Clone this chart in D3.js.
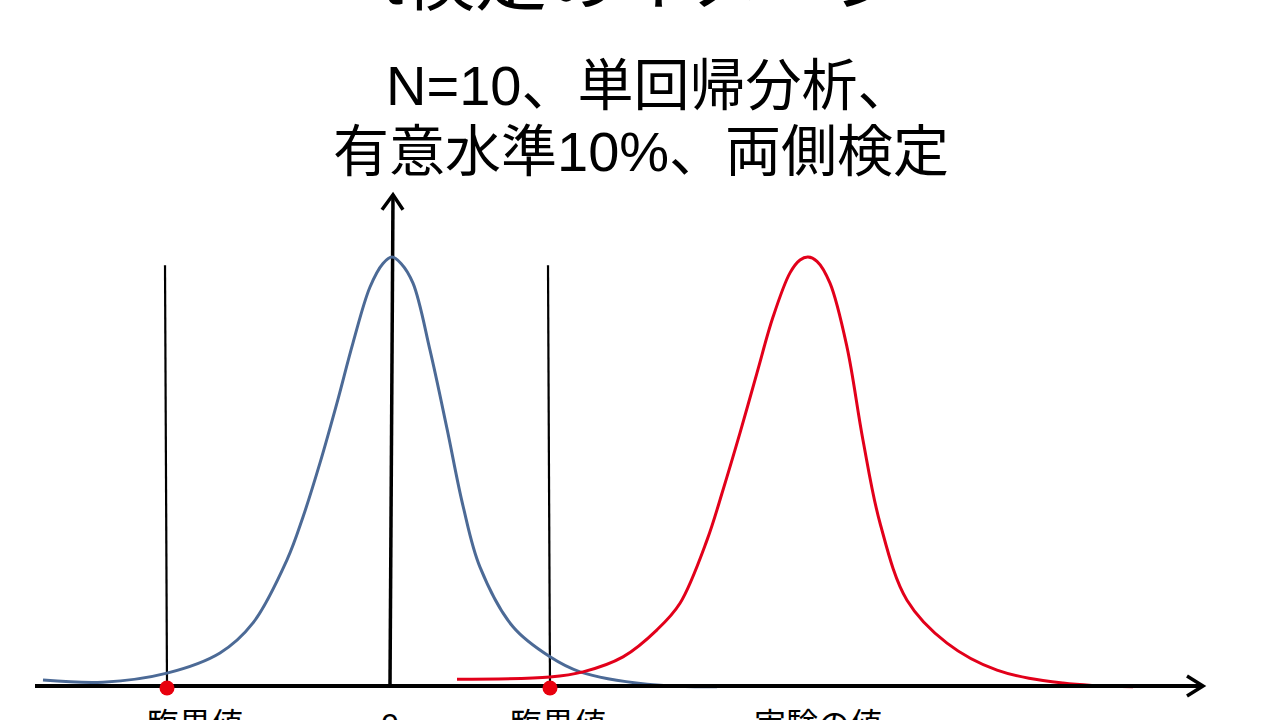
<!DOCTYPE html>
<html><head><meta charset="utf-8">
<script src="https://cdn.jsdelivr.net/npm/d3@7"></script>
<style>body{margin:0;background:#fff} svg{display:block}</style>
</head><body>
<svg id="c" width="1280" height="720"></svg>
<script>
// ---- data ----
const titleText = "t検定のイメージ";
const subtitleLines = ["N=10、単回帰分析、", "有意水準10%、両側検定"];
// null distribution (t distribution centred at 0)
const nullX = [-3.49,-2.89,-2.25,-1.72,-1.39,-1.05,-0.89,-0.72,-0.55,-0.39,-0.22,-0.09,0,0.09,0.21,0.38,0.55,0.71,0.88,1.21,1.58,1.88,2.55,3.25];
const nullY = [0.014,0.009,0.030,0.077,0.147,0.294,0.394,0.520,0.660,0.800,0.930,0.985,1.0,0.985,0.939,0.783,0.600,0.420,0.277,0.138,0.068,0.033,0.004,-0.002];
// experimental distribution
const expX = [0.65,1.58,1.91,2.31,2.65,2.88,3.15,3.31,3.48,3.65,3.81,3.98,4.08,4.16,4.25,4.38,4.55,4.71,4.88,5.15,5.55,6.05,6.71,7.41];
const expY = [0.016,0.021,0.033,0.068,0.131,0.193,0.340,0.457,0.590,0.730,0.860,0.963,0.993,1.0,0.99,0.939,0.790,0.573,0.380,0.200,0.100,0.037,0.007,-0.002];
const criticalValues = [-2.26, 1.57];
const criticalTop = 0.981;
const axisLabels = ["臨界値", "0", "臨界値", "実験の値"];
const axisLabelX = [-1.97, -0.02, 1.66, 4.26];
const xDomain = [-3.57, 8.11];
const yAxisTop = 1.145;

// ---- drawing ----
const svg = d3.select("#c");
const x = d3.scaleLinear().domain([-3.57, 8.08]).range([35, 1200]);
const y = d3.scaleLinear().domain([0, 1]).range([686, 257]);
const jp = "'Liberation Sans', 'Noto Sans CJK JP', sans-serif";

svg.append("rect").attr("width",1280).attr("height",720).attr("fill","#fff");

// title (cut off at top)
svg.append("text").attr("x",383).attr("y",4)
  .attr("font-family",jp).attr("font-size",72).attr("fill","#000")
  .text(titleText);

// subtitle
svg.selectAll("text.sub").data(subtitleLines).join("text")
  .attr("class","sub")
  .attr("x",(d,i)=> i===0 ? 386 : 333)
  .attr("y",(d,i)=> 105 + i*66)
  .attr("font-family",jp).attr("font-size",56).attr("fill","#000")
  .text(d=>d);

// critical lines
svg.selectAll("line.crit").data(criticalValues).join("line")
  .attr("class","crit")
  .attr("x1",d=>x(d)-1).attr("x2",d=>x(d)+1)
  .attr("y1",y(criticalTop)).attr("y2",y(0))
  .attr("stroke","#000").attr("stroke-width",2.2);

// y axis
svg.append("line").attr("x1",x(0)-2).attr("x2",x(0)+1)
  .attr("y1",y(0)).attr("y2",y(yAxisTop))
  .attr("stroke","#000").attr("stroke-width",3.5);
svg.append("path")
  .attr("d",`M${x(0)-10},${y(yAxisTop)+15}L${x(0)+1},${y(yAxisTop)}L${x(0)+11},${y(yAxisTop)+15}`)
  .attr("fill","none").attr("stroke","#000").attr("stroke-width",3.5).attr("stroke-linejoin","miter");

const line = d3.line().x(d=>x(d[0])).y(d=>y(d[1])).curve(d3.curveCatmullRom.alpha(0.5));

// curves
svg.append("path").datum(nullX.map((v,i)=>[v,nullY[i]]))
  .attr("d",line).attr("fill","none").attr("stroke","#4c6a96").attr("stroke-width",3);
svg.append("path").datum(expX.map((v,i)=>[v,expY[i]]))
  .attr("d",line).attr("fill","none").attr("stroke","#e2001a").attr("stroke-width",3);

// x axis
svg.append("line").attr("x1",x(xDomain[0])).attr("x2",x(xDomain[1])-2)
  .attr("y1",y(0)).attr("y2",y(0))
  .attr("stroke","#000").attr("stroke-width",4);
svg.append("path")
  .attr("d",`M${x(xDomain[1])-16},${y(0)-10}L${x(xDomain[1])},${y(0)}L${x(xDomain[1])-16},${y(0)+10}`)
  .attr("fill","none").attr("stroke","#000").attr("stroke-width",3.5);

// red dots at critical values
svg.selectAll("circle.cv").data(criticalValues).join("circle")
  .attr("class","cv")
  .attr("cx",d=>x(d)+1).attr("cy",y(0)+2).attr("r",7.5).attr("fill","#e8000e");

// axis labels (cut off at bottom)
svg.selectAll("text.lab").data(axisLabels).join("text")
  .attr("class","lab")
  .attr("x",(d,i)=>x(axisLabelX[i])).attr("y",736)
  .attr("text-anchor","middle")
  .attr("font-family",jp).attr("font-size",32).attr("fill","#000")
  .text(d=>d);
</script>
</body></html>
